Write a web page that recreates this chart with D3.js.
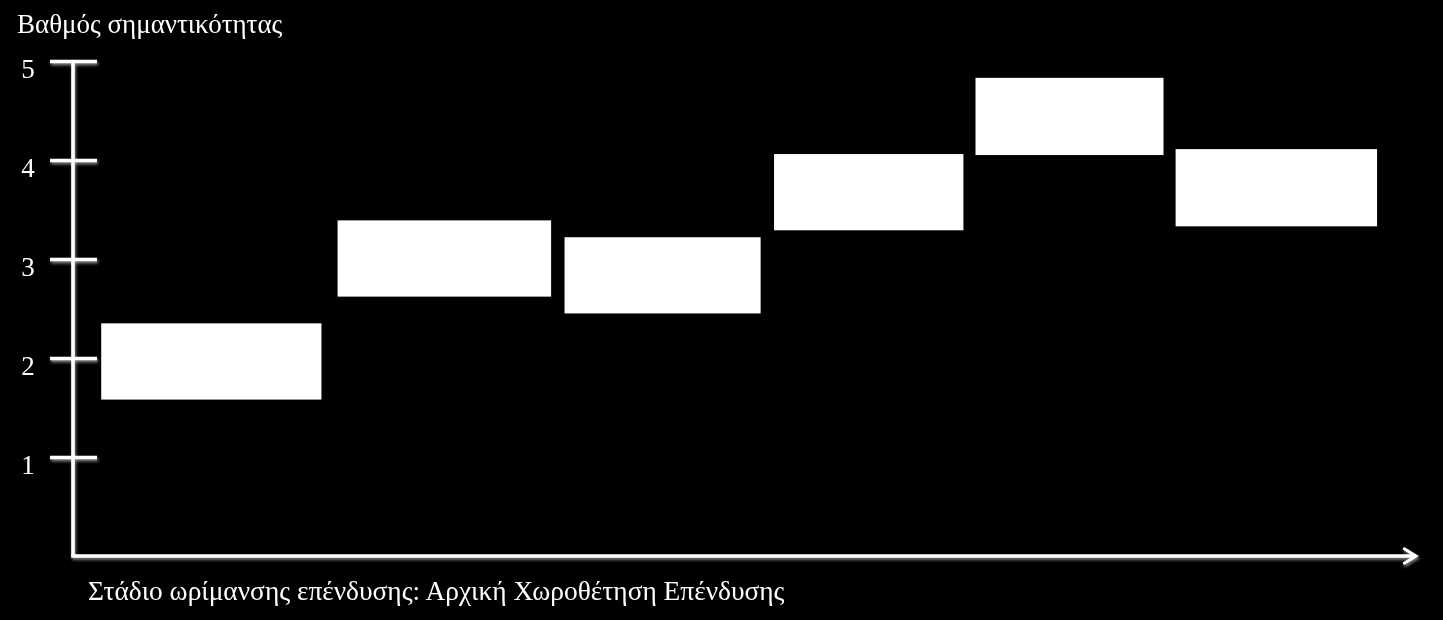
<!DOCTYPE html>
<html>
<head>
<meta charset="utf-8">
<script src="https://cdn.jsdelivr.net/npm/d3@7"></script>
<style>
  html, body { margin: 0; padding: 0; background: #000; }
  svg { display: block; }
</style>
</head>
<body>
<svg></svg>
<script>
// stages along the maturity axis, and the importance range of each
const stageStart = [2.1, 19.7, 36.6, 52.2, 67.2, 82.1];
const stageEnd   = [18.5, 35.6, 51.2, 66.3, 81.2, 97.1];
const scoreLow   = [1.58, 2.62, 2.45, 3.29, 4.05, 3.33];
const scoreHigh  = [2.35, 3.39, 3.22, 4.06, 4.83, 4.11];
const yTicks = [1, 2, 3, 4, 5];

const yTitle = "Βαθμός σημαντικότητας";
const xTitle = "Στάδιο ωρίμανσης επένδυσης: Αρχική Χωροθέτηση Επένδυσης";

var pixelWidth = 1443;
var pixelHeight = 620;
var fontFamily = "'Liberation Serif', 'DejaVu Serif', serif";

var xScale = d3.scaleLinear().domain([0, 100]).range([73, 1416]);
var yScale = d3.scaleLinear().domain([0, 5]).range([556, 61]);

var svg = d3.select("svg")
    .attr("width", pixelWidth)
    .attr("height", pixelHeight);

svg.append("rect")
    .attr("width", pixelWidth).attr("height", pixelHeight)
    .attr("fill", "#000");

// soft glow under the axis strokes
var defs = svg.append("defs");
defs.append("filter").attr("id", "glow")
    .attr("x", "-20%").attr("y", "-20%").attr("width", "140%").attr("height", "140%")
    .append("feDropShadow")
    .attr("dx", 1).attr("dy", 2)
    .attr("stdDeviation", 1.6)
    .attr("flood-color", "#9a9a9a")
    .attr("flood-opacity", 0.9);

defs.append("marker").attr("id", "arrow")
    .attr("viewBox", "0 0 10 10")
    .attr("refX", 8).attr("refY", 5)
    .attr("markerWidth", 5).attr("markerHeight", 5)
    .attr("markerUnits", "strokeWidth")
    .attr("orient", "auto")
    .append("path")
    .attr("d", "M1.5,1 L8,5 L1.5,9")
    .attr("fill", "none")
    .attr("stroke", "#fff")
    .attr("stroke-width", 1.6)
    .attr("stroke-linecap", "round");

function axisStroke(el) {
    return el
        .attr("fill", "none")
        .attr("stroke", "#fff")
        .attr("stroke-width", 3.6);
}

var axes = svg.append("g").attr("filter", "url(#glow)");

// y axis: vertical line plus tick bars
var yAxis = d3.axisLeft(yScale)
    .tickValues(yTicks)
    .tickSize(0)
    .tickFormat("");
var yAxisG = axes.append("g").attr("transform", "translate(" + xScale(0) + ",0)").call(yAxis);
yAxisG.select(".domain").remove();
yAxisG.append("path")
    .attr("d", d3.line()([[0, yScale(0)], [0, yScale(5)]]))
    .call(axisStroke);
yAxisG.selectAll(".tick").append("line")
    .attr("x1", -23).attr("x2", 24)
    .call(axisStroke);

// x axis with open arrow head
axes.append("path")
    .attr("d", d3.line()([[xScale(0) - 1.8, yScale(0)], [xScale(100), yScale(0)]]))
    .call(axisStroke)
    .attr("marker-end", "url(#arrow)");

// tick labels
svg.append("g").selectAll("text")
    .data(yTicks)
    .join("text")
    .attr("x", 28)
    .attr("y", d => yScale(d) + 17)
    .attr("text-anchor", "middle")
    .attr("fill", "#fff")
    .style("font-family", fontFamily)
    .style("font-size", "27px")
    .text(d => d);

// range boxes
svg.append("g").selectAll("rect")
    .data(stageStart.map((s, i) => ({ x0: s, x1: stageEnd[i], lo: scoreLow[i], hi: scoreHigh[i] })))
    .join("rect")
    .attr("x", d => xScale(d.x0))
    .attr("y", d => yScale(d.hi))
    .attr("width", d => xScale(d.x1) - xScale(d.x0))
    .attr("height", d => yScale(d.lo) - yScale(d.hi))
    .attr("fill", "#fff");

svg.append("text")
    .attr("x", 17).attr("y", 33)
    .attr("fill", "#fff")
    .style("font-family", fontFamily)
    .style("font-size", "27px")
    .text(yTitle);

svg.append("text")
    .attr("x", 88).attr("y", 600)
    .attr("fill", "#fff")
    .style("font-family", fontFamily)
    .style("font-size", "27.4px")
    .text(xTitle);
</script>
</body>
</html>
